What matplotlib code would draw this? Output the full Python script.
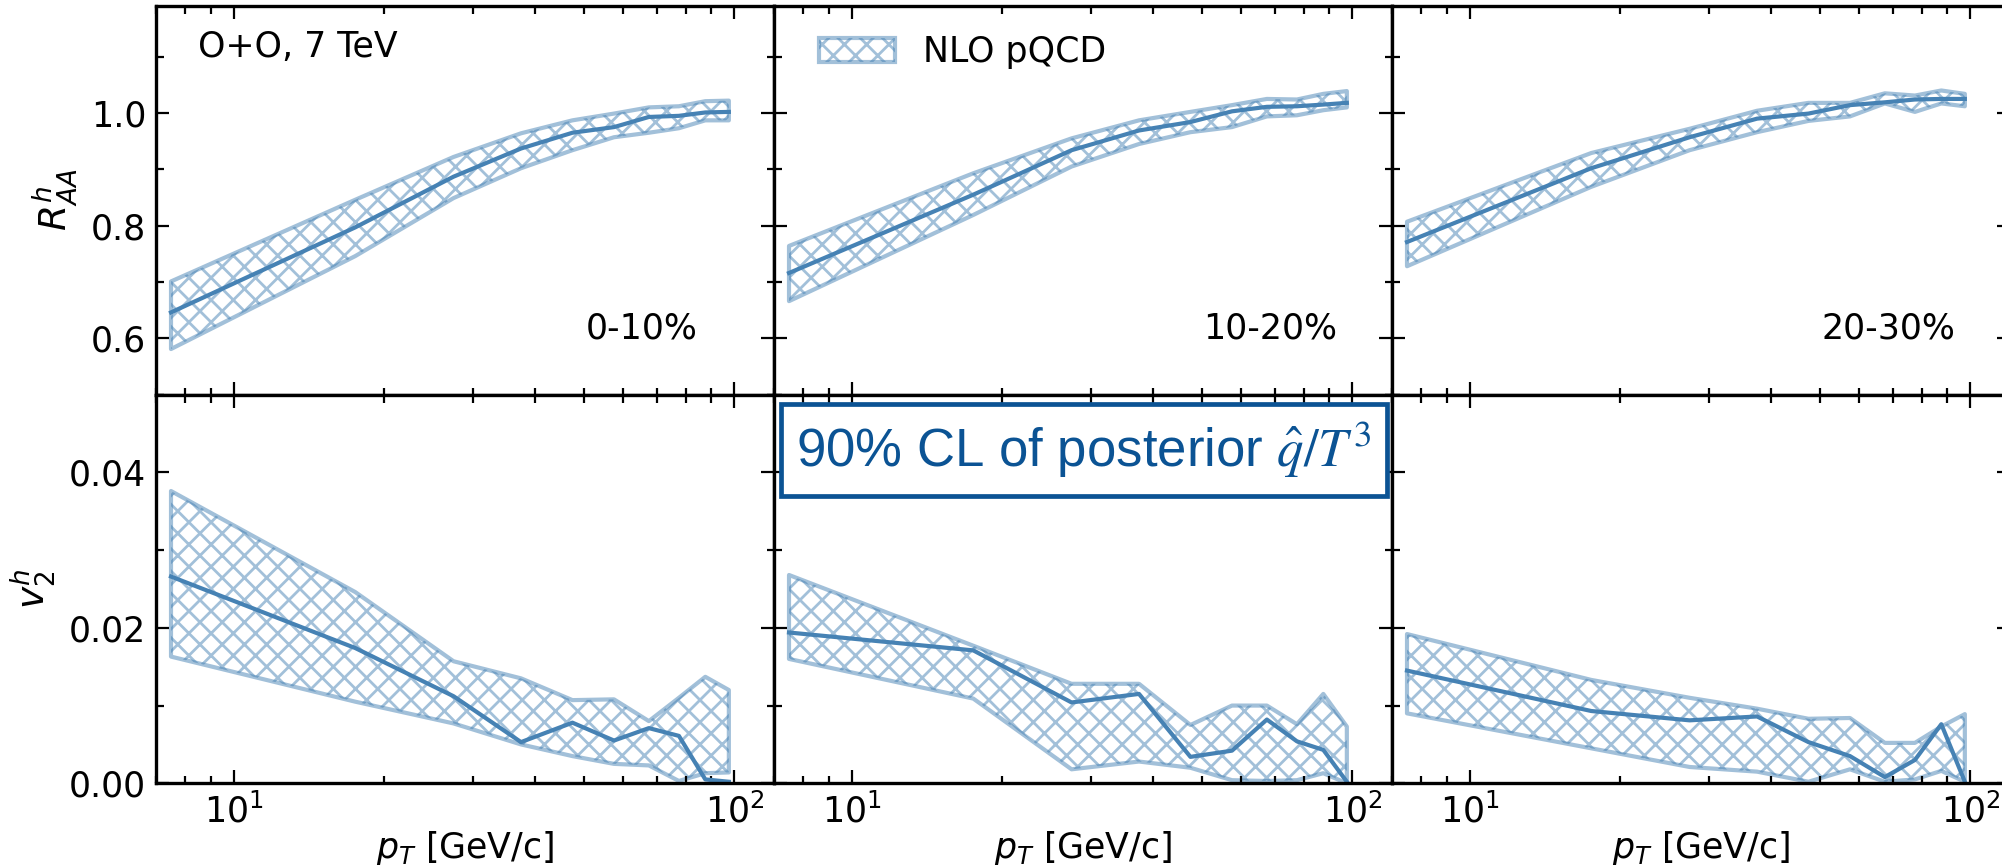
import numpy as np
import matplotlib
matplotlib.use('Agg')
import matplotlib.pyplot as plt
from matplotlib.ticker import MultipleLocator

# ---------------- data ----------------
pt = [7.5, 17.5, 27.5, 37.5, 47.5, 57.5, 67.5, 77.5, 87.5, 97.5]
centralities = ['0-10%', '10-20%', '20-30%']

raa_up_0_10 = [0.701, 0.846, 0.922, 0.964, 0.987, 0.999, 1.010, 1.012, 1.021, 1.022]
raa_mid_0_10 = [0.646, 0.797, 0.887, 0.937, 0.965, 0.975, 0.993, 0.995, 1.001, 1.002]
raa_lo_0_10 = [0.581, 0.746, 0.849, 0.902, 0.934, 0.957, 0.965, 0.973, 0.987, 0.987]

raa_up_10_20 = [0.764, 0.893, 0.955, 0.987, 1.002, 1.014, 1.025, 1.024, 1.034, 1.039]
raa_mid_10_20 = [0.716, 0.855, 0.934, 0.969, 0.984, 1.003, 1.011, 1.012, 1.015, 1.018]
raa_lo_10_20 = [0.666, 0.819, 0.905, 0.945, 0.966, 0.975, 0.994, 0.996, 1.005, 1.010]

raa_up_20_30 = [0.807, 0.929, 0.972, 1.004, 1.018, 1.018, 1.035, 1.031, 1.040, 1.034]
raa_mid_20_30 = [0.771, 0.902, 0.957, 0.990, 0.999, 1.014, 1.019, 1.024, 1.025, 1.025]
raa_lo_20_30 = [0.728, 0.869, 0.934, 0.966, 0.986, 0.994, 1.017, 1.002, 1.017, 1.012]

v2_up_0_10 = [0.0376, 0.0246, 0.0157, 0.0135, 0.0107, 0.0108, 0.0080, 0.0110, 0.0137, 0.0120]
v2_mid_0_10 = [0.0266, 0.0174, 0.0112, 0.0053, 0.0078, 0.0055, 0.0071, 0.0061, 0.0005, 0.0002]
v2_lo_0_10 = [0.0163, 0.0105, 0.0077, 0.0050, 0.0035, 0.0025, 0.0023, 0.0003, 0.0013, 0.0014]

v2_up_10_20 = [0.0268, 0.0177, 0.0128, 0.0128, 0.0075, 0.0100, 0.0100, 0.0076, 0.0115, 0.0073]
v2_mid_10_20 = [0.0194, 0.0171, 0.0104, 0.0115, 0.0034, 0.0042, 0.0082, 0.0054, 0.0043, 0.0002]
v2_lo_10_20 = [0.0160, 0.0109, 0.0018, 0.0028, 0.0020, 0.0004, 0.0003, 0.0004, 0.0013, 0.0000]

v2_up_20_30 = [0.0192, 0.0133, 0.0110, 0.0096, 0.0083, 0.0084, 0.0052, 0.0052, 0.0073, 0.0089]
v2_mid_20_30 = [0.0145, 0.0093, 0.0081, 0.0086, 0.0053, 0.0035, 0.0008, 0.0030, 0.0076, 0.0002]
v2_lo_20_30 = [0.0090, 0.0045, 0.0021, 0.0015, 0.0002, 0.0018, 0.0002, 0.0005, 0.0016, 0.0002]

raa_sets = [(raa_lo_0_10, raa_mid_0_10, raa_up_0_10),
            (raa_lo_10_20, raa_mid_10_20, raa_up_10_20),
            (raa_lo_20_30, raa_mid_20_30, raa_up_20_30)]
v2_sets = [(v2_lo_0_10, v2_mid_0_10, v2_up_0_10),
           (v2_lo_10_20, v2_mid_10_20, v2_up_10_20),
           (v2_lo_20_30, v2_mid_20_30, v2_up_20_30)]

# ---------------- style ----------------
plt.rcParams['font.family'] = ['DejaVu Sans']
plt.rcParams['font.size'] = 12.5
plt.rcParams['hatch.linewidth'] = 1.0
plt.rcParams['axes.linewidth'] = 1.2

band_color = 'steelblue'
line_color = 'steelblue'
box_color = '#0b5394'
fs = 12.5

fig, axes = plt.subplots(2, 3, figsize=(10.01, 4.34), dpi=200,
                         sharex=True, sharey='row')
fig.subplots_adjust(left=156/2002, right=2010/2002, bottom=(868-783.3)/868,
                    top=1-6/868, wspace=0, hspace=0)

for j in range(3):
    for i, sets in enumerate([raa_sets, v2_sets]):
        ax = axes[i, j]
        lo, mid, up = sets[j]
        ax.fill_between(pt, lo, up, facecolor='none', edgecolor=band_color,
                        alpha=0.5, hatch='xxx', linewidth=1.5,
                        label='NLO pQCD')
        ax.plot(pt, mid, color=line_color, lw=1.5)
        ax.set_xscale('log')
        ax.tick_params(which='both', direction='in', top=True, right=True,
                       labelsize=fs)
        ax.tick_params(which='major', length=4.8, width=0.8)
        ax.tick_params(which='minor', length=2.7, width=0.8)
        if i == 1:
            ax.set_xlabel(r'$p_T$ [GeV/c]', fontsize=fs, labelpad=0)
        if j == 1 and i == 0:
            ax.legend(loc='upper left', bbox_to_anchor=(0.05, 0.961),
                      borderaxespad=0, frameon=False, fontsize=fs,
                      handlelength=2.2)
    axes[0, j].text(0.695, 0.144, centralities[j], transform=axes[0, j].transAxes,
                    fontsize=fs, ha='left', va='baseline')

axes[0, 0].set_xlim(7, 120)
axes[0, 0].set_ylim(0.5, 1.19)
axes[0, 0].yaxis.set_major_locator(MultipleLocator(0.2))
axes[0, 0].yaxis.set_minor_locator(MultipleLocator(0.1))
axes[1, 0].set_ylim(0.0, 0.05)
axes[1, 0].yaxis.set_major_locator(MultipleLocator(0.02))
axes[1, 0].yaxis.set_minor_locator(MultipleLocator(0.01))

axes[0, 0].set_ylabel(r'$R^{h}_{AA}$', fontsize=13.5)
axes[1, 0].set_ylabel(r'$v^{h}_{2}$', fontsize=13.5)

axes[0, 0].text(0.068, 0.869, 'O+O, 7 TeV', transform=axes[0, 0].transAxes,
                fontsize=fs, ha='left', va='baseline')

axes[1, 1].text(0.5016, 0.857, r'90% CL of posterior $\hat{q}/T^3$',
                transform=axes[1, 1].transAxes, ha='center', va='center',
                fontsize=19, color=box_color, family='Liberation Sans',
                math_fontfamily='stix',
                bbox=dict(boxstyle='square,pad=0.3', facecolor='white',
                          edgecolor=box_color, linewidth=1.7))

fig.savefig('out.png', dpi=200)
